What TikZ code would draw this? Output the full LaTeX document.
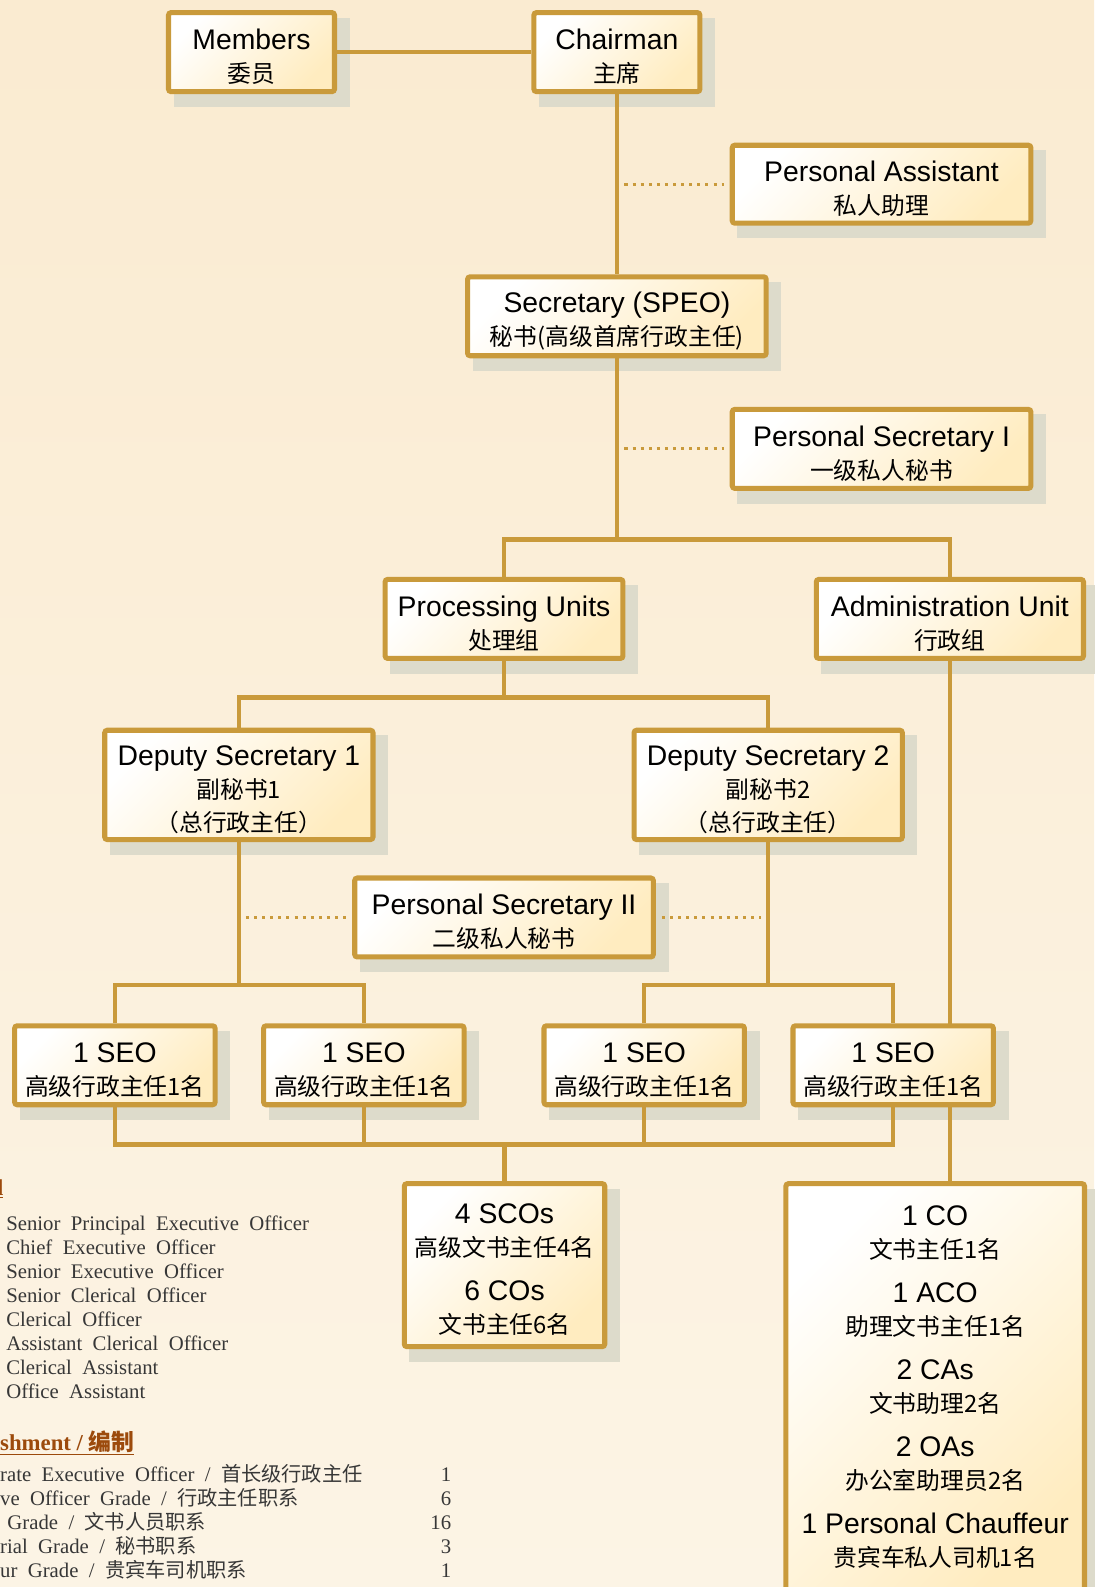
\documentclass[tikz,border=0pt]{standalone}
\usepackage{fontspec}
\setmainfont{Liberation Sans}
\newfontfamily\cjk{Noto Sans CJK SC}
\newfontfamily\serifx{Liberation Serif}
\pgfdeclarelayer{bglayer}
\pgfdeclarelayer{shadowlayer}
\pgfdeclarelayer{lines}
\pgfsetlayers{bglayer,shadowlayer,lines,main}
\definecolor{gold}{RGB}{201,154,59}
\definecolor{boxyel}{RGB}{255,236,192}
\definecolor{shadowc}{RGB}{221,219,203}
\definecolor{bgtop}{RGB}{250,235,209}
\definecolor{bgbot}{RGB}{252,244,229}
\definecolor{legtext}{RGB}{55,55,55}
\definecolor{brownh}{RGB}{156,74,12}
\newcommand\zh[1]{{\cjk\fontsize{23.5}{32.5}\selectfont #1}}
\newcommand\st{\rule{0pt}{29pt}}
\newcommand\lz[1]{{\cjk\fontsize{20}{24}\selectfont #1}}
\newcommand\wsp{\spaceskip=0.5em plus 0.1em\relax}
\tikzset{
 box/.style={draw=gold, line width=5pt, rounded corners=2.5pt, top color=white, bottom color=boxyel, shading angle=45, inner sep=0pt, align=center, font=\fontsize{28}{32.5}\selectfont, text=black},
 conn/.style={draw=gold, line width=4.5pt},
 dotl/.style={draw=gold, line width=3pt, dash pattern=on 3pt off 5pt},
 leg/.style={font=\serifx\fontsize{20.5}{24}\selectfont\wsp, text=legtext, inner sep=0pt, anchor=base west},
 legh/.style={font=\serifx\bfseries\fontsize{22.5}{24}\selectfont, text=brownh, inner sep=0pt},
 num/.style={font=\serifx\fontsize{20.5}{24}\selectfont, text=legtext, inner sep=0pt, anchor=base east},
}
\begin{document}
\begin{tikzpicture}[x=1pt,y=-1pt]
\useasboundingbox (0,0) rectangle (1081,1568);
\begin{pgfonlayer}{bglayer}
\shade[top color=bgtop, bottom color=bgbot] (0,0) rectangle (1081,1568);
\end{pgfonlayer}
% junctions
\coordinate (j1) at (609.5,533);
\coordinate (j2) at (498,689);
\coordinate (j3) at (236,973);
\coordinate (j4) at (759,973);
\coordinate (j5) at (498.5,1131);
\coordinate (d1) at (617,182);
\coordinate (d2) at (617,443.5);
\coordinate (d3) at (243,906.5);
\coordinate (d4) at (752,906.5);
% boxes
\node[box, minimum width=164pt, minimum height=78pt] (members) at (248.5,51.5) {\st Members\\\zh{委员}};
\node[box, minimum width=164pt, minimum height=78pt] (chair) at (609.5,51.5) {\st Chairman\\\zh{主席}};
\node[box, minimum width=295pt, minimum height=77pt] (pa) at (871,182) {\st Personal Assistant\\\zh{私人助理}};
\node[box, minimum width=295pt, minimum height=78pt] (sec) at (609.5,312.5) {\st Secretary (SPEO)\\\zh{秘书(高级首席行政主任)}};
\node[box, minimum width=295pt, minimum height=78pt] (ps1) at (871,443.5) {\st Personal Secretary I\\\zh{一级私人秘书}};
\node[box, minimum width=235pt, minimum height=78pt] (proc) at (498,611.5) {\st Processing Units\\\zh{处理组}};
\node[box, minimum width=264pt, minimum height=78pt] (admin) at (938.5,611.5) {\st Administration Unit\\\zh{行政组}};
\node[box, minimum width=265pt, minimum height=108pt] (ds1) at (236,775.5) {\st Deputy Secretary 1\\\zh{副秘书1}\\\zh{（总行政主任）}};
\node[box, minimum width=265pt, minimum height=108pt] (ds2) at (759,775.5) {\st Deputy Secretary 2\\\zh{副秘书2}\\\zh{（总行政主任）}};
\node[box, minimum width=295pt, minimum height=78pt] (ps2) at (498,906.5) {\st Personal Secretary II\\\zh{二级私人秘书}};
\node[box, minimum width=198pt, minimum height=78pt] (seo1) at (113.5,1052.5) {\st 1 SEO\\\zh{高级行政主任1名}};
\node[box, minimum width=198pt, minimum height=78pt] (seo2) at (359.5,1052.5) {\st 1 SEO\\\zh{高级行政主任1名}};
\node[box, minimum width=198pt, minimum height=78pt] (seo3) at (636.5,1052.5) {\st 1 SEO\\\zh{高级行政主任1名}};
\node[box, minimum width=198pt, minimum height=78pt] (seo4) at (882.5,1052.5) {\st 1 SEO\\\zh{高级行政主任1名}};
\node[box, minimum width=198pt, minimum height=161pt] (sco) at (498.5,1250) {\st 4 SCOs\\\zh{高级文书主任4名}\\[11pt]6 COs\\\zh{文书主任6名}};
\node[box, minimum width=295pt, minimum height=403pt] (adm2) at (924,1371) {};
\node[anchor=north, inner sep=0pt, align=center, font=\fontsize{28}{32.5}\selectfont] (adm2t) at (924,1189) {\rule{0pt}{22pt}1 CO\\\zh{文书主任1名}\\[11pt]1 ACO\\\zh{助理文书主任1名}\\[11pt]2 CAs\\\zh{文书助理2名}\\[11pt]2 OAs\\\zh{办公室助理员2名}\\[11pt]1 Personal Chauffeur\\\zh{贵宾车私人司机1名}};
% shadows
\begin{pgfonlayer}{shadowlayer}
\foreach \n in {members,chair,pa,sec,ps1,proc,admin,ds1,ds2,ps2,seo1,seo2,seo3,seo4,sco,adm2}
  \fill[shadowc] ([shift={(7.5,12.5)}]\n.south west) rectangle ([shift={(12.5,7.5)}]\n.north east);
\end{pgfonlayer}
% connectors
\begin{pgfonlayer}{lines}
\draw[conn] (members) -- (chair);
\draw[conn] (chair) -- (sec);
\draw[conn] (sec.south) -- (j1);
\draw[conn] (proc.north) |- (j1) -| (admin.north);
\draw[conn] (proc.south) -- (j2);
\draw[conn] (ds1.north) |- (j2) -| (ds2.north);
\draw[conn] (ds1.south) -- (j3);
\draw[conn] (seo1.north) |- (j3) -| (seo2.north);
\draw[conn] (ds2.south) -- (j4);
\draw[conn] (seo3.north) |- (j4) -| (seo4.north);
\draw[conn] (admin.south) -- (admin.south |- adm2.north);
\draw[conn] (seo1.south) |- (j5) -| (seo4.south);
\draw[conn] (seo2.south) -- (seo2.south |- j5);
\draw[conn] (seo3.south) -- (seo3.south |- j5);
\draw[conn] (j5) -- (sco.north);
\end{pgfonlayer}
\draw[dotl] (d1) -- ([xshift=-6pt]pa.west);
\draw[dotl] (d2) -- ([xshift=-6pt]ps1.west);
\draw[dotl] (d3) -- ([xshift=-6pt]ps2.west);
\draw[dotl] ([xshift=6pt]ps2.east) -- (d4);
% legend
\node[legh, anchor=base east] (lh1) at (3.5,1181) {\underline{l}};
\node[leg] (l1) at (6,1215.5) {Senior Principal Executive Officer};
\node[leg] (l2) at (6,1239.2) {Chief Executive Officer};
\node[leg] (l3) at (6,1262.9) {Senior Executive Officer};
\node[leg] (l4) at (6,1286.6) {Senior Clerical Officer};
\node[leg] (l5) at (6,1310.3) {Clerical Officer};
\node[leg] (l6) at (6,1334.0) {Assistant Clerical Officer};
\node[leg] (l7) at (6,1357.7) {Clerical Assistant};
\node[leg] (l8) at (6,1381.4) {Office Assistant};
\node[legh, anchor=base west] (lh2) at (0,1433.6) {\underline{shment / {\cjk\bfseries 编制}}};
\node[leg] (e1) at (0,1464) {rate Executive Officer / \lz{首长级行政主任}};
\node[leg] (e2) at (0,1487.7) {ve Officer Grade / \lz{行政主任职系}};
\node[leg] (e3) at (7.2,1511.4) {Grade / \lz{文书人员职系}};
\node[leg] (e4) at (0,1535.1) {rial Grade / \lz{秘书职系}};
\node[leg] (e5) at (0,1558.8) {ur Grade / \lz{贵宾车司机职系}};
\node[num] (n1) at (446,1464) {1};
\node[num] (n2) at (446,1487.7) {6};
\node[num] (n3) at (446,1511.4) {16};
\node[num] (n4) at (446,1535.1) {3};
\node[num] (n5) at (446,1558.8) {1};
\end{tikzpicture}
\end{document}
